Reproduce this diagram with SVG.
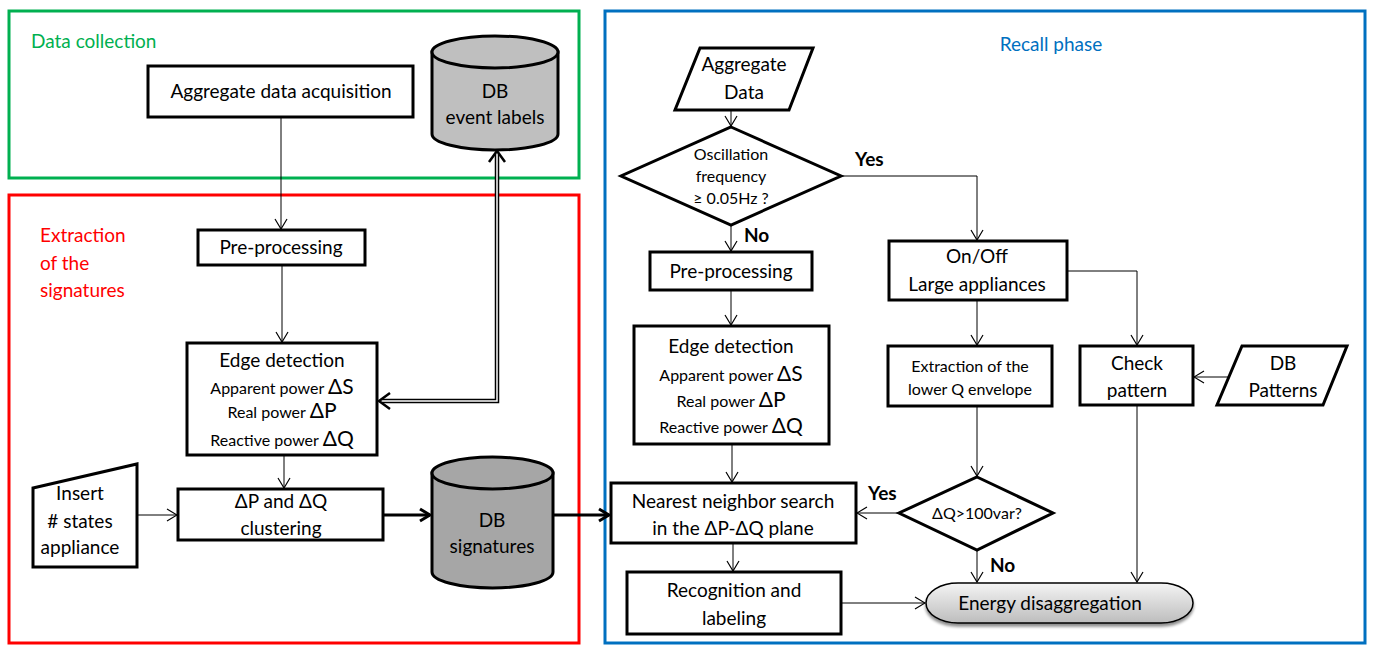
<svg xmlns="http://www.w3.org/2000/svg" width="1373" height="646" viewBox="0 0 1373 646">
<defs>
<marker id="ah" viewBox="0 0 12 14" refX="11" refY="7" markerWidth="12" markerHeight="14" markerUnits="userSpaceOnUse" orient="auto">
<path d="M1,1 L11,7 L1,13" fill="none" stroke="#000" stroke-width="1.2"/>
</marker>
<marker id="ahb" viewBox="0 0 14 16" refX="12" refY="8" markerWidth="14" markerHeight="16" markerUnits="userSpaceOnUse" orient="auto">
<path d="M2,2 L12,8 L2,14" fill="none" stroke="#000" stroke-width="3"/>
</marker>
<linearGradient id="eg" x1="0" y1="0" x2="0" y2="1">
<stop offset="0" stop-color="#f4f4f4"/>
<stop offset="1" stop-color="#bdbdbd"/>
</linearGradient>
<filter id="sh" x="-10%" y="-20%" width="120%" height="160%">
<feGaussianBlur in="SourceAlpha" stdDeviation="1.5"/>
<feOffset dx="0" dy="3" result="b"/>
<feComponentTransfer><feFuncA type="linear" slope="0.45"/></feComponentTransfer>
<feMerge><feMergeNode/><feMergeNode in="SourceGraphic"/></feMerge>
</filter>
</defs>
<style>
text{font-family:Lato,"Open Sans","Liberation Sans",sans-serif;fill:#000;text-anchor:middle}
.t19{font-size:19px}
.t16{font-size:16px}
.t15{font-size:16px}
.d{font-size:21px}
.b{font-weight:bold;font-size:19px;text-anchor:start}
.h{font-size:19px;text-anchor:start}
.box{fill:#fff;stroke:#000;stroke-width:3}
.db{stroke:#000;stroke-width:3}
.c{fill:none;stroke:#000;stroke-width:1}
.ct{fill:none;stroke:#000;stroke-width:3}
</style>
<rect width="1373" height="646" fill="#fff"/>
<g id="regions">
<rect x="9" y="11" width="570" height="167" fill="none" stroke="#00B050" stroke-width="3"/>
<rect x="9" y="195" width="570" height="448" fill="none" stroke="#FF0000" stroke-width="3"/>
<rect x="605" y="11" width="760" height="632" fill="none" stroke="#0070C0" stroke-width="3"/>
<text class="h" x="31" y="48" style="fill:#00B050">Data collection</text>
<text class="h" x="40" y="242" style="fill:#FF0000">Extraction</text>
<text class="h" x="40" y="270" style="fill:#FF0000">of the</text>
<text class="h" x="40" y="297" style="fill:#FF0000">signatures</text>
<text class="t19" x="1051" y="51" style="fill:#0070C0">Recall phase</text>
</g>
<g id="connectors">
<path class="c" d="M281,117 V229" marker-end="url(#ah)"/>
<path class="c" d="M282,265 V342" marker-end="url(#ah)"/>
<path d="M381,401 H497 V154" fill="none" stroke="#000" stroke-width="4.5"/>
<path d="M381,401 H497 V154" fill="none" stroke="#fff" stroke-width="1.5"/>
<path d="M390,393 L379,401 L390,409" fill="none" stroke="#000" stroke-width="2.5"/>
<path d="M489,162 L497,151 L505,162" fill="none" stroke="#000" stroke-width="2.5"/>
<path class="c" d="M284,455 V488" marker-end="url(#ah)"/>
<path class="c" d="M137,515 H177" marker-end="url(#ah)"/>
<path class="ct" d="M383,515 H430" marker-end="url(#ahb)"/>
<path class="ct" d="M553,515 H609" marker-end="url(#ahb)"/>
<path class="c" d="M731,110 V126" marker-end="url(#ah)"/>
<path class="c" d="M731,225 V251" marker-end="url(#ah)"/>
<path class="c" d="M731,290 V325" marker-end="url(#ah)"/>
<path class="c" d="M732,444 V482" marker-end="url(#ah)"/>
<path class="c" d="M733,543 V571" marker-end="url(#ah)"/>
<path class="c" d="M841,603 H925" marker-end="url(#ah)"/>
<path class="c" d="M841,176 H977 V240" marker-end="url(#ah)"/>
<path class="c" d="M977,300 V345" marker-end="url(#ah)"/>
<path class="c" d="M1067,271 H1137 V345" marker-end="url(#ah)"/>
<path class="c" d="M1230,377 H1194" marker-end="url(#ah)"/>
<path class="c" d="M977,406 V476" marker-end="url(#ah)"/>
<path class="c" d="M899,513 H857" marker-end="url(#ah)"/>
<path class="c" d="M977,550 V582" marker-end="url(#ah)"/>
<path class="c" d="M1137,405 V582" marker-end="url(#ah)"/>
<text class="b" x="855" y="166">Yes</text>
<text class="b" x="744" y="242">No</text>
<text class="b" x="868" y="500">Yes</text>
<text class="b" x="990" y="572">No</text>
</g>
<g id="n_acq">
<rect class="box" x="148" y="66" width="265" height="51"/>
<text class="t19" x="281" y="98">Aggregate data acquisition</text>
</g>
<g id="n_dbevent">
<path class="db" fill="#BFBFBF" d="M432,52 V134 A63,16 0 0 0 558,134 V52 Z"/>
<ellipse class="db" fill="#BFBFBF" cx="495" cy="52" rx="63" ry="16"/>
<text class="t19" x="495" y="98">DB</text>
<text class="t19" x="495" y="124">event labels</text>
</g>
<g id="n_pre1">
<rect class="box" x="198" y="230" width="167" height="35"/>
<text class="t19" x="281" y="254">Pre-processing</text>
</g>
<g id="n_edge1">
<rect class="box" x="187" y="343" width="190" height="112"/>
<text class="t19" x="282" y="367">Edge detection</text>
<text class="t15" x="282" y="394">Apparent power <tspan class="d">ΔS</tspan></text>
<text class="t15" x="282" y="418">Real power <tspan class="d">ΔP</tspan></text>
<text class="t15" x="282" y="446">Reactive power <tspan class="d">ΔQ</tspan></text>
</g>
<g id="n_insert">
<polygon class="box" points="33,488 137,464 137,567 33,567"/>
<text class="t19" x="80" y="500">Insert</text>
<text class="t19" x="80" y="528">#&#160;states</text>
<text class="t19" x="80" y="554">appliance</text>
</g>
<g id="n_cluster">
<rect class="box" x="178" y="489" width="205" height="51"/>
<text class="t19" x="281" y="508">ΔP and ΔQ</text>
<text class="t19" x="281" y="535">clustering</text>
</g>
<g id="n_dbsig">
<path class="db" fill="#A6A6A6" d="M432,473 V572 A60.5,16 0 0 0 553,572 V473 Z"/>
<ellipse class="db" fill="#A6A6A6" cx="492.5" cy="473" rx="60.5" ry="16"/>
<text class="t19" x="492" y="527">DB</text>
<text class="t19" x="492" y="553">signatures</text>
</g>
<g id="n_aggdata">
<polygon class="box" points="700,48 813,48 789,110 675,110"/>
<text class="t19" x="744" y="71">Aggregate</text>
<text class="t19" x="744" y="99">Data</text>
</g>
<g id="n_osc">
<polygon class="box" points="731,127 841,176 731,225 621,176"/>
<text class="t16" x="731" y="160">Oscillation</text>
<text class="t16" x="731" y="182">frequency</text>
<text class="t16" x="731" y="204">≥ 0.05Hz ?</text>
</g>
<g id="n_pre2">
<rect class="box" x="650" y="252" width="162" height="38"/>
<text class="t19" x="731" y="278">Pre-processing</text>
</g>
<g id="n_edge2">
<rect class="box" x="634" y="326" width="195" height="118"/>
<text class="t19" x="731" y="353">Edge detection</text>
<text class="t15" x="731" y="381">Apparent power <tspan class="d">ΔS</tspan></text>
<text class="t15" x="731" y="407">Real power <tspan class="d">ΔP</tspan></text>
<text class="t15" x="731" y="433">Reactive power <tspan class="d">ΔQ</tspan></text>
</g>
<g id="n_onoff">
<rect class="box" x="889" y="241" width="178" height="59"/>
<text class="t19" x="977" y="263">On/Off</text>
<text class="t19" x="977" y="291">Large appliances</text>
</g>
<g id="n_extr">
<rect class="box" x="888" y="346" width="164" height="60"/>
<text class="t16" x="970" y="372">Extraction of the</text>
<text class="t16" x="970" y="395">lower Q envelope</text>
</g>
<g id="n_check">
<rect class="box" x="1080" y="346" width="113" height="59"/>
<text class="t19" x="1137" y="370">Check</text>
<text class="t19" x="1137" y="397">pattern</text>
</g>
<g id="n_dbpat">
<polygon class="box" points="1242,346 1347,346 1323,405 1217,405"/>
<text class="t19" x="1283" y="370">DB</text>
<text class="t19" x="1283" y="397">Patterns</text>
</g>
<g id="n_dq">
<polygon class="box" points="977,477 1053,513 977,550 899,513"/>
<text class="t16" x="977" y="519">ΔQ&gt;100var?</text>
</g>
<g id="n_nn">
<rect class="box" x="611" y="483" width="245" height="60"/>
<text class="t19" x="733" y="508">Nearest neighbor search</text>
<text class="t19" x="733" y="535">in the ΔP-ΔQ plane</text>
</g>
<g id="n_recog">
<rect class="box" x="627" y="572" width="214" height="62"/>
<text class="t19" x="734" y="597">Recognition and</text>
<text class="t19" x="734" y="625">labeling</text>
</g>
<g id="n_energy">
<rect x="926" y="583" width="267" height="40" rx="32" ry="20" fill="url(#eg)" stroke="#000" stroke-width="1.5" filter="url(#sh)"/>
<text class="t19" x="1050" y="610">Energy disaggregation</text>
</g>
</svg>
